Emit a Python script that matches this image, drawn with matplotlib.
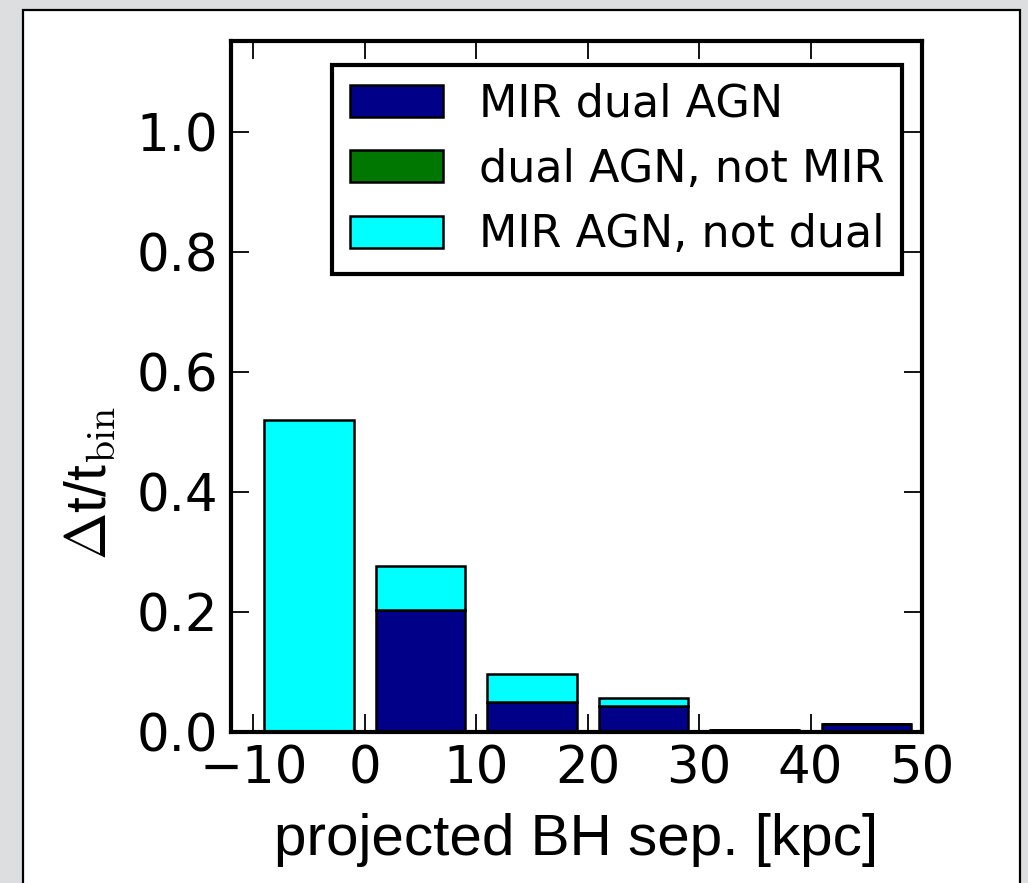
import matplotlib
matplotlib.use("Agg")
import matplotlib.pyplot as plt
from matplotlib.patches import Rectangle

# ── data ──────────────────────────────────────────────────────
bin_centers = [-5, 5, 15, 25, 35, 45]
mir_dual = [0.0, 0.203, 0.050, 0.044, 0.003, 0.013]
dual_not_mir = [0.0, 0.0, 0.0, 0.0, 0.0, 0.0]
mir_not_dual = [0.52, 0.074, 0.046, 0.013, 0.0, 0.0]

labels = ["MIR dual AGN", "dual AGN, not MIR", "MIR AGN, not dual"]
colors = ["#000088", "#007700", "#00ffff"]
xticks = [-10, 0, 10, 20, 30, 40, 50]
yticks = [0.0, 0.2, 0.4, 0.6, 0.8, 1.0]

plt.rcParams["font.family"] = "DejaVu Sans"
plt.rcParams["mathtext.fontset"] = "cm"

fig = plt.figure(figsize=(10.28, 8.83), dpi=100)
fig.patch.set_facecolor("#dddee0")

# white panel with a thin frame (bottom edge runs off the image)
fig.patches.append(Rectangle((0.0224, -0.05), 0.9698, 1.0387,
                             transform=fig.transFigure, facecolor="white",
                             edgecolor="black", linewidth=1.6, zorder=-10))

ax = fig.add_axes([0.2247, 0.171, 0.6722, 0.7826])
ax.set_zorder(5)

bottom2 = [a + b for a, b in zip(mir_dual, dual_not_mir)]
bar_kw = dict(width=8, edgecolor="black", linewidth=1.8)
ax.bar(bin_centers, mir_dual, color=colors[0], label=labels[0], **bar_kw)
ax.bar(bin_centers, dual_not_mir, bottom=mir_dual, color=colors[1],
       label=labels[1], **bar_kw)
ax.bar(bin_centers, mir_not_dual, bottom=bottom2, color=colors[2],
       label=labels[2], **bar_kw)

ax.set_xlim(-12, 50)
ax.set_ylim(0, 1.152)
ax.set_xticks(xticks)
ax.set_yticks(yticks)
ax.set_xticklabels(["\u221210"] + [str(t) for t in xticks[1:]])
ax.set_yticklabels([f"{t:.1f}" for t in yticks])

for s in ax.spines.values():
    s.set_linewidth(3)
ax.tick_params(direction="in", length=13, width=1.3, labelsize=37,
               top=True, right=True, pad=9)

ax.set_xlabel("projected BH sep. [kpc]", fontsize=42,
              fontfamily="Liberation Sans", labelpad=13)
ax.set_ylabel(r"$\Delta$t/t$_{\rm bin}$", fontsize=41,
              fontfamily="Liberation Sans")
ax.yaxis.set_label_coords(-0.165, 0.36)

leg = ax.legend(loc="upper right", bbox_to_anchor=(0.971, 0.9653),
                fontsize=32, frameon=True, fancybox=False, framealpha=1,
                handlelength=2.1, handleheight=0.73, handletextpad=0.8,
                labelspacing=0.5, borderaxespad=0, borderpad=0.4)
leg.get_frame().set_edgecolor("black")
leg.get_frame().set_linewidth(3)
for h in leg.legend_handles:
    h.set_linewidth(1.8)

fig.savefig("out.png", dpi=100, facecolor=fig.get_facecolor())
